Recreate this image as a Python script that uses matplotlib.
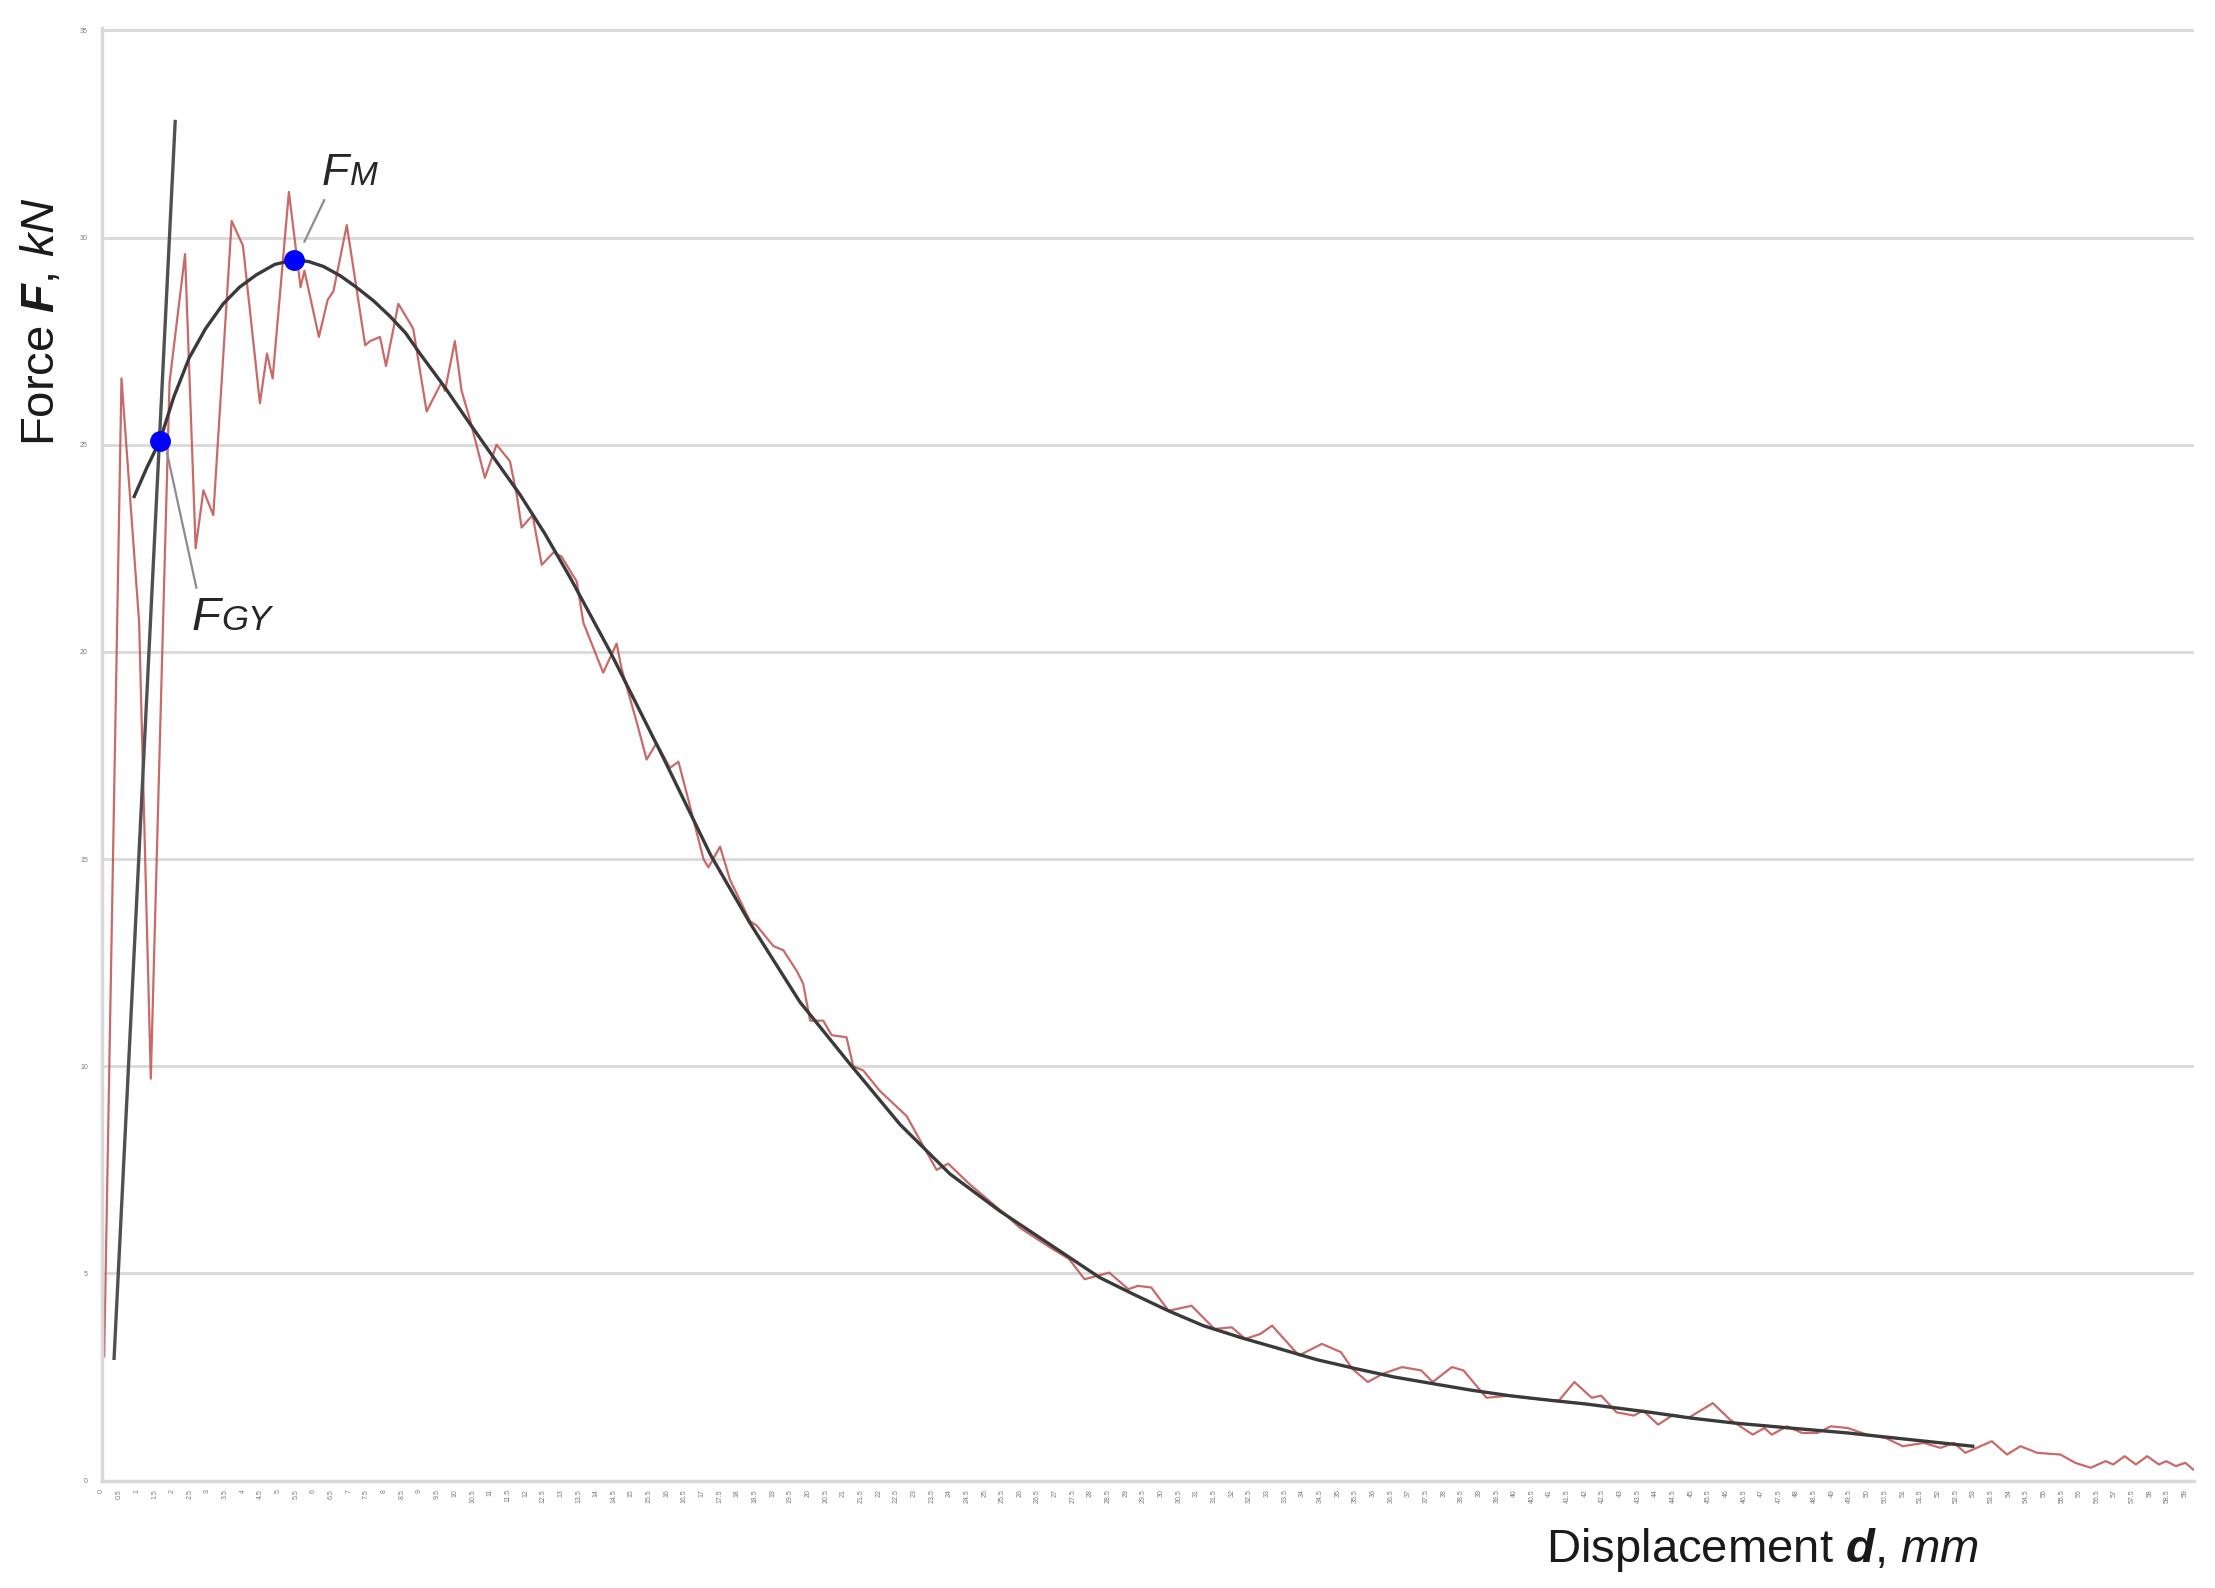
import numpy as np
import matplotlib
matplotlib.use("Agg")
import matplotlib.pyplot as plt

plt.rcParams['font.family'] = ['Liberation Sans', 'DejaVu Sans']
plt.rcParams['mathtext.fontset'] = 'custom'
plt.rcParams['mathtext.rm'] = 'Liberation Sans'
plt.rcParams['mathtext.it'] = 'Liberation Sans:italic'
plt.rcParams['mathtext.bf'] = 'Liberation Sans:bold'
plt.rcParams['mathtext.bfit'] = 'Liberation Sans:bold:italic'

# measured force-displacement record (red)
d_meas = [0.07, 0.56, 1.06, 1.39, 1.92, 2.36, 2.66, 2.88, 3.16, 3.68, 4.00, 4.48,
          4.68, 4.84, 5.30, 5.63, 5.74, 6.15, 6.40, 6.56, 6.94, 7.46, 7.60, 7.88,
          8.05, 8.40, 8.82, 9.20, 9.62, 9.72, 10.00, 10.19, 10.43, 10.85, 11.18,
          11.56, 11.75, 11.89, 12.20, 12.46, 12.79, 13.02, 13.45, 13.64, 14.20,
          14.58, 14.72, 15.15, 15.43, 15.71, 16.09, 16.33, 16.56, 17.04, 17.18,
          17.51, 17.79, 18.36, 18.54, 19.02, 19.30, 19.68, 19.86, 20.06, 20.43,
          20.67, 21.09, 21.28, 21.56, 22.04, 22.79, 23.64, 23.97, 24.58, 25.62,
          26.00, 26.85, 27.39, 27.83, 28.53, 29.07, 29.34, 29.72, 30.21, 30.86,
          31.51, 32.00, 32.38, 32.81, 33.14, 33.90, 34.55, 35.09, 35.41, 35.85,
          36.28, 36.82, 37.36, 37.69, 38.23, 38.56, 39.21, 39.86, 40.62, 41.26,
          41.70, 42.19, 42.46, 42.89, 43.38, 43.65, 44.07, 44.50, 44.92, 45.62,
          46.11, 46.75, 47.08, 47.29, 47.72, 48.15, 48.58, 48.96, 49.44, 49.98,
          50.51, 51.00, 51.59, 52.07, 52.45, 52.77, 53.09, 53.52, 53.95, 54.33,
          54.81, 55.46, 55.88, 56.32, 56.74, 56.96, 57.28, 57.60, 57.92, 58.25,
          58.46, 58.73, 59.00, 59.22]
F_meas = [3.0, 26.6, 20.7, 9.7, 26.5, 29.6, 22.5, 23.9, 23.3, 30.4, 29.8, 26.0,
          27.2, 26.6, 31.1, 28.8, 29.2, 27.6, 28.5, 28.7, 30.3, 27.4, 27.5, 27.6,
          26.9, 28.4, 27.8, 25.8, 26.5, 26.3, 27.5, 26.3, 25.6, 24.2, 25.0,
          24.6, 23.8, 23.0, 23.3, 22.1, 22.4, 22.3, 21.7, 20.7, 19.5,
          20.2, 19.6, 18.3, 17.4, 17.8, 17.2, 17.35, 16.6, 15.0, 14.8,
          15.3, 14.5, 13.5, 13.4, 12.9, 12.8, 12.3, 12.0, 11.1, 11.1,
          10.75, 10.7, 10.0, 9.9, 9.4, 8.8, 7.5, 7.65, 7.15, 6.4,
          6.1, 5.63, 5.35, 4.86, 5.02, 4.62, 4.7, 4.66, 4.1, 4.22,
          3.66, 3.7, 3.42, 3.54, 3.74, 3.02, 3.3, 3.1, 2.7, 2.38,
          2.58, 2.74, 2.66, 2.38, 2.74, 2.66, 2.0, 2.05, 1.97, 1.93,
          2.38, 2.0, 2.05, 1.65, 1.57, 1.69, 1.35, 1.59, 1.51, 1.87,
          1.47, 1.11, 1.27, 1.11, 1.31, 1.15, 1.15, 1.31, 1.27, 1.11,
          1.03, 0.83, 0.91, 0.79, 0.91, 0.67, 0.79, 0.95, 0.63, 0.83,
          0.67, 0.63, 0.43, 0.31, 0.47, 0.39, 0.59, 0.39, 0.59, 0.39,
          0.47, 0.35, 0.43, 0.27]

# fitted curve (black)
d_fit = [0.92, 1.28, 1.65, 2.04, 2.48, 2.94, 3.44, 3.90, 4.38, 4.90, 5.44, 5.86,
         6.28, 6.75, 7.21, 7.70, 8.16, 8.60, 9.01, 9.72, 10.43, 11.13, 11.84,
         12.55, 13.26, 14.40, 15.90, 17.24, 18.36, 19.77, 21.19, 22.60, 24.02,
         25.44, 26.85, 28.26, 29.21, 30.20, 31.19, 32.30, 33.36, 34.40, 35.52,
         36.60, 37.69, 38.80, 39.86, 41.00, 42.02, 43.84, 45.00, 46.22, 47.80,
         49.44, 51.20, 52.98]
F_fit = [23.75, 24.45, 25.1, 26.15, 27.1, 27.8, 28.4, 28.8, 29.1, 29.35, 29.46, 29.42,
         29.3, 29.08, 28.8, 28.47, 28.1, 27.7, 27.2, 26.38, 25.5, 24.65, 23.8,
         22.85, 21.8, 20.0, 17.45, 15.1, 13.45, 11.55, 10.05, 8.6, 7.4,
         6.5, 5.7, 4.9, 4.5, 4.1, 3.74, 3.44, 3.18, 2.92, 2.7,
         2.5, 2.34, 2.18, 2.05, 1.94, 1.85, 1.65, 1.51, 1.39, 1.27,
         1.15, 0.99, 0.83]

# initial stiffness tangent
d_tan = [0.35, 2.08]
F_tan = [2.95, 32.8]

# characteristic points
d_gy, F_gy = 1.65, 25.1
d_m, F_m = 5.44, 29.46

y_ticks = [0, 5, 10, 15, 20, 25, 30, 35]
x_ticks = np.arange(0, 59.5, 0.5)
x_labels = [f'{v:g}' for v in x_ticks]

fig = plt.figure(figsize=(22.15, 15.88), dpi=100)
ax = fig.add_axes([0.04592, 0.06762, 0.94452, 0.91459])

ax.plot(d_meas, F_meas, color='#c0504d', lw=1.6, alpha=0.85, zorder=2)
ax.plot(d_fit, F_fit, color='#3a3a3a', lw=2.4, zorder=3)
ax.plot(d_tan, F_tan, color='#505050', lw=2.4, zorder=3)
ax.plot([d_gy, d_m], [F_gy, F_m], 'o', color='#0000ff', ms=14, zorder=5)

# leader lines and labels
ax.plot([1.85, 2.68], [24.8, 21.55], color='#8c8c8c', lw=1.6, zorder=4)
ax.plot([5.74, 6.3], [29.9, 30.9], color='#8c8c8c', lw=1.6, zorder=4)
ax.text(2.55, 20.53, 'F', fontsize=34, style='italic', color='#262626', va='baseline')
ax.annotate('GY', xy=(2.55, 20.53), xytext=(21, 0), textcoords='offset points',
            fontsize=25, style='italic', color='#262626', va='baseline')
ax.text(6.23, 31.27, 'F', fontsize=32, style='italic', color='#262626', va='baseline')
ax.annotate('M', xy=(6.23, 31.27), xytext=(20, 0), textcoords='offset points',
            fontsize=24, style='italic', color='#262626', va='baseline')

ax.set_xlim(0, 59.24)
ax.set_ylim(0, 35.05)
ax.set_yticks(y_ticks)
ax.set_yticklabels([str(v) for v in y_ticks])
ax.set_xticks(x_ticks)
ax.set_xticklabels(x_labels, rotation=90)
ax.tick_params(axis='y', length=0, pad=10, labelsize=5, labelcolor='#7a7a7a')
ax.tick_params(axis='x', length=0, pad=6, labelsize=5, labelcolor='#7a7a7a')

ax.grid(axis='y', color='#d9d9d9', lw=2.0)
ax.set_axisbelow(True)
for side in ['top', 'right']:
    ax.spines[side].set_visible(False)
for side in ['left', 'bottom']:
    ax.spines[side].set_color('#d9d9d9')
    ax.spines[side].set_linewidth(2.5)

ax.set_ylabel(r'Force $\mathbfit{F}$, $\mathit{kN}$', fontsize=34, color='#1a1a1a')
ax.yaxis.set_label_coords(-0.0284, 0.798)
ax.yaxis.label.set_va('center')
ax.set_xlabel(r'Displacement $\mathbfit{d}$, $\mathit{mm}$', fontsize=34, color='#1a1a1a')
ax.xaxis.set_label_coords(0.7937, -0.0477)
ax.xaxis.label.set_va('center')

fig.savefig('out.png', dpi=100, facecolor='white')
